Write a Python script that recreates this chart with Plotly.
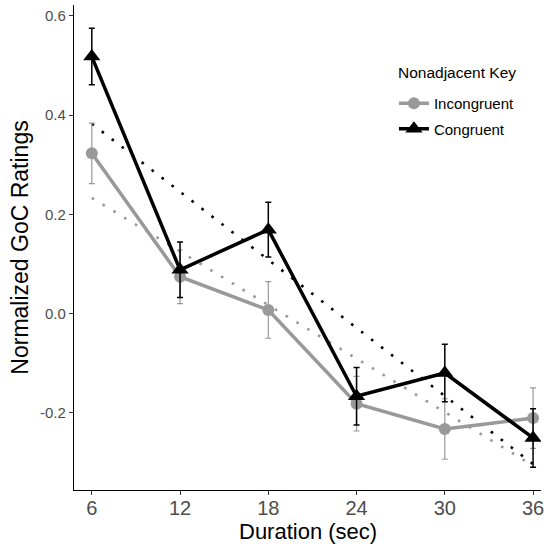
import numpy as np
import plotly.graph_objects as go

durations = [6, 12, 18, 24, 30, 36]
incongruent = [0.323, 0.074, 0.007, -0.182, -0.233, -0.211]
incongruent_se = [0.061, 0.054, 0.057, 0.055, 0.061, 0.061]
congruent = [0.518, 0.088, 0.169, -0.167, -0.120, -0.251]
congruent_se = [0.057, 0.056, 0.055, 0.058, 0.058, 0.059]
x_ticks = [6, 12, 18, 24, 30, 36]
y_ticks = [-0.2, 0.0, 0.2, 0.4, 0.6]
y_tick_labels = ["-0.2", "0.0", "0.2", "0.4", "0.6"]

GREY = "#999999"
BLACK = "#000000"


def linfit(x, y):
    x = np.asarray(x, float)
    y = np.asarray(y, float)
    b, a = np.polyfit(x, y, 1)
    xs = np.array([x.min(), x.max()])
    return xs, a + b * xs


fig = go.Figure()

# regression (dotted) lines
for ys, col, w in [(incongruent, GREY, 2.6), (congruent, BLACK, 2.6)]:
    fx, fy = linfit(durations, ys)
    fig.add_trace(go.Scatter(x=fx, y=fy, mode="lines",
                             line=dict(color=col, width=w, dash="2.6px,10px"),
                             showlegend=False, hoverinfo="skip"))

fig.add_trace(go.Scatter(
    x=durations, y=incongruent, mode="lines+markers", name="Incongruent",
    legendgroup="a",
    line=dict(color=GREY, width=3.5),
    marker=dict(symbol="circle", size=12, color=GREY),
    error_y=dict(type="data", array=incongruent_se, color=GREY, thickness=1.2, width=3),
))
fig.add_trace(go.Scatter(
    x=durations, y=congruent, mode="lines+markers", name="Congruent",
    legendgroup="b",
    line=dict(color=BLACK, width=3.5),
    marker=dict(symbol="triangle-up", size=15, color=BLACK),
    error_y=dict(type="data", array=congruent_se, color=BLACK, thickness=1.5, width=3),
))

fig.add_annotation(text="Nonadjacent Key", xref="paper", yref="paper",
                   x=(398 - 74) / 470, y=1 - (73 - 5) / 485,
                   xanchor="left", yanchor="middle", showarrow=False,
                   font=dict(size=15.5, color="#000000"))

fig.add_annotation(text="Duration (sec)", xref="paper", yref="paper",
                   x=0.5, y=-(531 - 490) / 485,
                   xanchor="center", yanchor="middle", showarrow=False,
                   font=dict(size=22, color="#000000"))

fig.update_layout(
    width=544, height=547,
    margin=dict(l=74, r=0, t=5, b=57),
    plot_bgcolor="white", paper_bgcolor="white",
    font=dict(family="Liberation Sans, Arial, sans-serif", color="#000000"),
    showlegend=True,
    legend=dict(
        x=(396 - 74) / 470, y=1 - (87 - 5) / 485, xanchor="left", yanchor="top",
        font=dict(size=15, color="#000000"),
        tracegroupgap=3,
        bgcolor="rgba(0,0,0,0)",
    ),
    xaxis=dict(
        range=[4.79, 36.54], tickmode="array", tickvals=x_ticks,
        ticktext=[str(v) for v in x_ticks], ticklabeloverflow="allow",
        ticklabelstandoff=-4,
        showgrid=False, zeroline=False, showline=True, linecolor="black", linewidth=1.3,
        ticks="outside", ticklen=4, tickcolor="#333333", tickwidth=1,
        tickfont=dict(size=20, color="#4D4D4D"),
    ),
    yaxis=dict(
        range=[-0.356, 0.622], tickmode="array", tickvals=y_ticks, ticktext=y_tick_labels,
        showgrid=False, zeroline=False, showline=True, linecolor="black", linewidth=1.3,
        ticks="outside", ticklen=4, tickcolor="#333333", tickwidth=1,
        tickfont=dict(size=15, color="#4D4D4D"),
        title=dict(text="Normalized GoC Ratings", font=dict(size=23, color="#000000"), standoff=4),
    ),
)

fig.write_html("out.html")
